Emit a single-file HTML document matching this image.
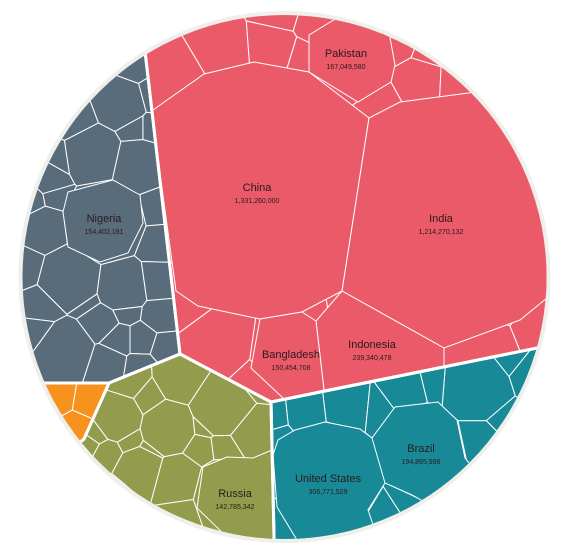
<!DOCTYPE html>
<html><head><meta charset="utf-8">
<style>
html,body{margin:0;padding:0;background:#fff;}
svg{display:block;}
.nm{font-family:"Liberation Sans",sans-serif;font-size:11px;fill:#2a1a1c;text-anchor:middle;}
.vl{font-family:"Liberation Sans",sans-serif;font-size:7px;fill:#2a1a1c;text-anchor:middle;}
</style></head>
<body>
<svg id="chart" width="567" height="546" viewBox="0 0 567 546">
<defs><clipPath id="cc"><circle cx="284.5" cy="277" r="262"/></clipPath></defs>
<circle cx="284.5" cy="277" r="264" fill="none" stroke="#efefec" stroke-width="4"/>
<g id="cells" clip-path="url(#cc)"></g>
<g id="labels"></g>
</svg>
<script>
// ---- data ----
const countries = ["China","India","Pakistan","Indonesia","Bangladesh","Nigeria","United States","Brazil","Russia"];
const populations = ["1,331,260,000","1,214,270,132","167,049,580","239,340,478","150,454,708","154,402,181","306,771,529","194,895,996","142,785,342"];
const continents = ["asia","africa","europe","americas","oceania"];
const continentColors = ["#eb5a68","#586c7c","#939c4c","#188a97","#f7921e"];

const CX=284.5, CY=277, R=262;
function arc(a0,a1,n){const p=[];for(let i=0;i<=n;i++){const a=(a0+(a1-a0)*i/n)*Math.PI/180;p.push([CX+(R+6)*Math.cos(a),CY+(R+6)*Math.sin(a)]);}return p;}
const regions = {
 asia:[[145,51],[180,354],[271,402],[537,348]].concat(arc(15.7,-121.7,40)),
 americas:[[271,402],[274,536]].concat(arc(92.3,15.7,20)).concat([[537,348]]),
 europe:[[180,354],[109,383],[84,439]].concat(arc(141,92.3,15)).concat([[274,536],[271,402]]),
 oceania:[[109,383]].concat(arc(156.7,141,6)).concat([[84,439]]),
 africa:[[180,354],[145,51]].concat(arc(238.3,156.7,25)).concat([[109,383]])
};
const seeds = {
 asia:[[261,188,110],[445,220,104],[350,65,32],[385,340,38],[288,355,30],[175,80,22],[222,52,18],[275,48,18],[282,16,8],[312,25,10],[298,55,8],[400,45,12],[418,78,18],[460,80,14],[378,100,8],[425,55,8],[218,345,25],[185,300,8],[255,385,10],[485,340,15],[535,320,8],[505,300,10]],
 africa:[[105,222,40],[70,278,30],[122,285,25],[158,243,18],[155,210,15],[138,165,25],[93,155,27],[120,103,23],[133,67,10],[50,178,14],[55,195,7],[45,230,20],[28,267,13],[43,305,15],[65,348,25],[100,322,15],[118,340,12],[108,362,14],[141,340,11],[157,280,17],[160,315,12],[140,367,10],[163,347,7],[148,130,8],[135,130,10],[75,120,15],[40,330,10],[85,300,10],[30,200,10],[60,160,10],[125,310,8],[150,95,8]],
 europe:[[225,492,32],[168,429,25],[117,418,22],[222,407,28],[181,380,18],[250,430,18],[200,450,12],[223,447,10],[141,470,22],[178,480,24],[107,452,10],[90,443,8],[128,383,10],[148,400,6],[182,507,12],[262,500,10],[97,433,10],[255,380,10],[130,440,8],[150,452,8],[120,495,12],[205,425,8]],
 americas:[[330,475,52],[420,450,45],[475,388,33],[405,393,18],[438,385,12],[348,410,22],[378,413,15],[306,415,18],[278,418,8],[283,435,6],[475,438,18],[510,360,8],[400,492,8],[380,505,10],[290,525,10],[498,415,8],[525,372,8]],
 oceania:[[60,395,8],[90,400,10],[78,428,6]]
};
// big labeled cell outlines (drawn over diagram)
const bigCells = {
 China:[[153,110],[204,74],[254,62],[309,72],[369,118],[342,291],[302,312],[260,319],[198,306],[176,291],[150,100]],
 India:[[369,118],[400,102],[476,92],[600,60],[600,290],[547,298],[520,320],[444,348],[342,291]],
 Pakistan:[[309,35],[309,72],[358,102],[391,82],[395,65],[389,32],[350,10]],
 Indonesia:[[342,291],[316,321],[324,390],[444,366],[444,348]],
 Bangladesh:[[260,319],[251,368],[284,399],[324,390],[316,321],[302,312]],
 Nigeria:[[68,192],[113,180],[140,195],[143,223],[128,253],[100,262],[68,247],[63,212]],
 "United States":[[273,455],[278,440],[295,430],[325,422],[360,429],[372,438],[385,475],[385,483],[368,510],[380,545],[300,545],[277,507]],
 Brazil:[[372,438],[395,407],[438,402],[457,420],[465,458],[475,470],[430,505],[412,495],[385,483]],
 Russia:[[203,467],[227,457],[253,458],[272,450],[275,545],[230,540],[197,508]]
};
const bigContinent = {China:0,India:0,Pakistan:0,Indonesia:0,Bangladesh:0,Nigeria:1,"United States":3,Brazil:3,Russia:2};
const labelPos = [[257,191],[441,222],[346,57],[372,348],[291,358],[104,222],[328,482],[421,452],[235,497]];

const NS="http://www.w3.org/2000/svg";
const cellsG=document.getElementById('cells'), labG=document.getElementById('labels');
function clip(poly,a,b,c){
 const out=[];for(let i=0;i<poly.length;i++){const P=poly[i],Q=poly[(i+1)%poly.length];
  const fp=a*P[0]+b*P[1]-c, fq=a*Q[0]+b*Q[1]-c;
  if(fp<=0)out.push(P);
  if((fp<0&&fq>0)||(fp>0&&fq<0)){const t=fp/(fp-fq);out.push([P[0]+t*(Q[0]-P[0]),P[1]+t*(Q[1]-P[1])]);}}
 return out;}
function pathOf(p){return 'M'+p.map(q=>q[0].toFixed(1)+','+q[1].toFixed(1)).join('L')+'Z';}
continents.forEach((cn,ci)=>{
 const S=seeds[cn];
 S.forEach((si,i)=>{
  let poly=regions[cn].slice();
  S.forEach((sj,j)=>{ if(i===j||poly.length<3)return;
   const a=2*(sj[0]-si[0]), b=2*(sj[1]-si[1]);
   const c=(sj[0]*sj[0]+sj[1]*sj[1])-(si[0]*si[0]+si[1]*si[1])-sj[2]*sj[2]+si[2]*si[2];
   poly=clip(poly,a,b,c);});
  if(poly.length<3)return;
  const el=document.createElementNS(NS,'path');
  el.setAttribute('d',pathOf(poly));
  el.setAttribute('fill',continentColors[ci]);
  el.setAttribute('stroke','#ffffff');el.setAttribute('stroke-width','1');
  
  
  cellsG.appendChild(el);
 });
});
countries.forEach((name)=>{
 const el=document.createElementNS(NS,'path');
 el.setAttribute('d',pathOf(bigCells[name]));
 el.setAttribute('fill',continentColors[bigContinent[name]]);
 el.setAttribute('stroke','#ffffff');el.setAttribute('stroke-width','1');
 
 
 cellsG.appendChild(el);
});
continents.forEach((cn)=>{
 const el=document.createElementNS(NS,'path');
 el.setAttribute('d',pathOf(regions[cn]));
 el.setAttribute('fill','none');el.setAttribute('stroke','#ffffff');el.setAttribute('stroke-width','3');
 
 
 cellsG.appendChild(el);
});
countries.forEach((name,i)=>{
 const t=document.createElementNS(NS,'text');
 t.setAttribute('x',labelPos[i][0]);t.setAttribute('y',labelPos[i][1]);
 t.setAttribute('class','nm');t.textContent=name;
 
 
 labG.appendChild(t);
 const v=document.createElementNS(NS,'text');
 v.setAttribute('x',labelPos[i][0]);v.setAttribute('y',labelPos[i][1]+12);
 v.setAttribute('class','vl');v.textContent=populations[i];
 
 
 labG.appendChild(v);
});
</script>
</body></html>
